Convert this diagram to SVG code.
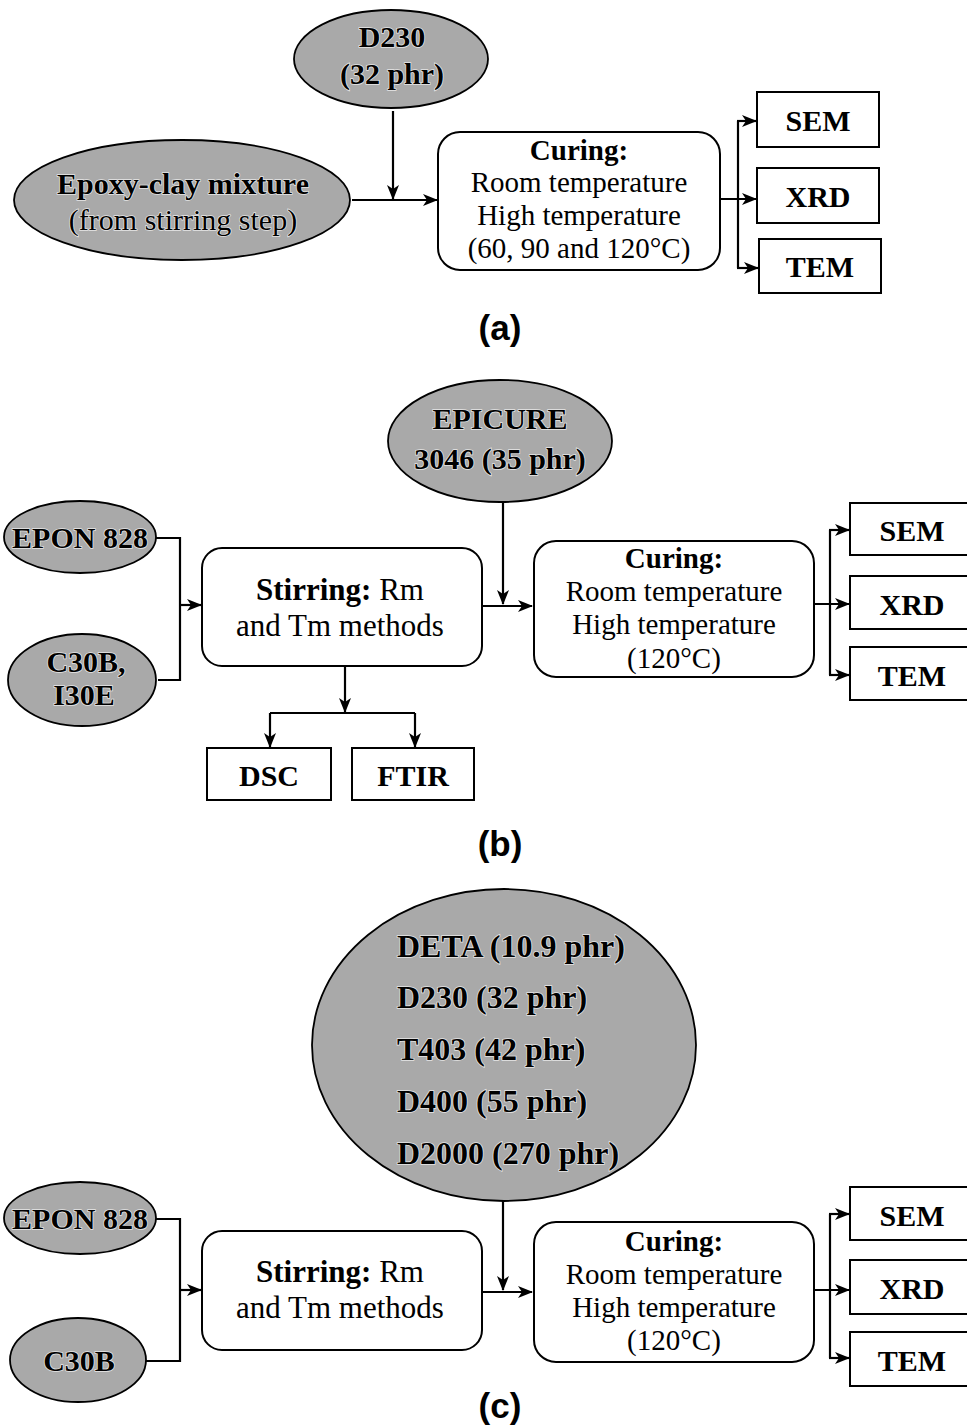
<svg xmlns="http://www.w3.org/2000/svg" width="967" height="1428" viewBox="0 0 967 1428">
  <defs>
    <marker id="arr" viewBox="0 0 15 12" refX="14" refY="6" markerWidth="15" markerHeight="12" markerUnits="userSpaceOnUse" orient="auto">
      <path d="M0,0 L15,6 L0,12 L4,6 z" fill="#000"/>
    </marker>
  </defs>
  <style>
    .ell { fill: #a9a9a9; stroke: #000; stroke-width: 1.8; }
    .box { fill: #fff; stroke: #000; stroke-width: 2; }
    .con { fill: none; stroke: #000; stroke-width: 2.2; }
    .arw { fill: none; stroke: #000; stroke-width: 2.2; marker-end: url(#arr); }
    text { font-family: "Liberation Serif", "Times New Roman", serif; fill: #000; }
    .et { font-size: 30px; font-weight: bold; text-anchor: middle; stroke: #e6e6e6; stroke-width: 1.5; paint-order: stroke; }
    .el { font-size: 32px; font-weight: bold; stroke: #e6e6e6; stroke-width: 1.5; paint-order: stroke; }
    .er { font-size: 30px; text-anchor: middle; stroke: #e6e6e6; stroke-width: 1.5; paint-order: stroke; }
    .bt { font-size: 29px; text-anchor: middle; }
    .st { font-size: 31px; text-anchor: middle; }
    .lb { font-size: 30px; font-weight: bold; text-anchor: middle; }
    .cap { font-family: "Liberation Sans", Arial, sans-serif; font-size: 35px; font-weight: bold; text-anchor: middle; }
  </style>

  <rect width="967" height="1428" fill="#fff"/>

  <!-- ===== Panel (a) ===== -->
  <g id="a-d230">
    <ellipse class="ell" cx="391" cy="59" rx="97" ry="49"/>
    <text class="et" x="392" y="47">D230</text>
    <text class="et" x="392" y="84">(32 phr)</text>
  </g>
  <g id="a-mixture">
    <ellipse class="ell" cx="182" cy="200" rx="168" ry="60"/>
    <text class="et" x="183" y="194">Epoxy-clay mixture</text>
    <text class="er" x="183" y="230">(from stirring step)</text>
  </g>
  <g id="a-curing">
    <rect class="box" x="438" y="132" width="282" height="138" rx="22"/>
    <text class="bt" x="579" y="160" font-weight="bold">Curing:</text>
    <text class="bt" x="579" y="192">Room temperature</text>
    <text class="bt" x="579" y="225">High temperature</text>
    <text class="bt" x="579" y="258">(60, 90 and 120°C)</text>
  </g>
  <g id="a-sem">
    <rect class="box" x="757" y="92" width="122" height="55"/>
    <text class="lb" x="818" y="131">SEM</text>
  </g>
  <g id="a-xrd">
    <rect class="box" x="757" y="168" width="122" height="55"/>
    <text class="lb" x="818" y="207">XRD</text>
  </g>
  <g id="a-tem">
    <rect class="box" x="759" y="239" width="122" height="54"/>
    <text class="lb" x="820" y="277">TEM</text>
  </g>
  <g id="a-connectors">
    <path class="arw" d="M393,111 V199"/>
    <path class="arw" d="M352,200 H437"/>
    <path class="con" d="M738,121 V268"/>
    <path class="arw" d="M720,199 H756"/>
    <path class="arw" d="M737,121 H756"/>
    <path class="arw" d="M737,268 H758"/>
  </g>
  <text id="cap-a" class="cap" x="500" y="340">(a)</text>

  <!-- ===== Panel (b) ===== -->
  <g id="b-epicure">
    <ellipse class="ell" cx="500" cy="441" rx="112" ry="61"/>
    <text class="et" x="500" y="429">EPICURE</text>
    <text class="et" x="500" y="469">3046 (35 phr)</text>
  </g>
  <g id="b-epon">
    <ellipse class="ell" cx="80" cy="537" rx="76" ry="36"/>
    <text class="et" x="80" y="548">EPON 828</text>
  </g>
  <g id="b-clay">
    <ellipse class="ell" cx="82" cy="680" rx="74" ry="46"/>
    <text class="et" x="86" y="672">C30B,</text>
    <text class="et" x="84" y="705">I30E</text>
  </g>
  <g id="b-stirring">
    <rect class="box" x="202" y="548" width="280" height="118" rx="20"/>
    <text class="st" x="340" y="600"><tspan font-weight="bold">Stirring:</tspan> Rm</text>
    <text class="st" x="340" y="636">and Tm methods</text>
  </g>
  <g id="b-dsc">
    <rect class="box" x="207" y="748" width="124" height="52"/>
    <text class="lb" x="269" y="786">DSC</text>
  </g>
  <g id="b-ftir">
    <rect class="box" x="352" y="748" width="122" height="52"/>
    <text class="lb" x="413" y="786">FTIR</text>
  </g>
  <g id="b-curing">
    <rect class="box" x="534" y="541" width="280" height="136" rx="22"/>
    <text class="bt" x="674" y="568" font-weight="bold">Curing:</text>
    <text class="bt" x="674" y="601">Room temperature</text>
    <text class="bt" x="674" y="634">High temperature</text>
    <text class="bt" x="674" y="668">(120°C)</text>
  </g>
  <g id="b-sem">
    <rect class="box" x="850" y="503" width="130" height="52"/>
    <text class="lb" x="912" y="541">SEM</text>
  </g>
  <g id="b-xrd">
    <rect class="box" x="850" y="576" width="130" height="53"/>
    <text class="lb" x="912" y="615">XRD</text>
  </g>
  <g id="b-tem">
    <rect class="box" x="850" y="647" width="130" height="53"/>
    <text class="lb" x="912" y="686">TEM</text>
  </g>
  <g id="b-connectors">
    <path class="con" d="M156,538 H180 V680 H158"/>
    <path class="arw" d="M180,605 H201"/>
    <path class="arw" d="M345,666 V712"/>
    <path class="con" d="M270,713 H415"/>
    <path class="arw" d="M270,713 V747"/>
    <path class="arw" d="M415,713 V747"/>
    <path class="arw" d="M503,502 V604"/>
    <path class="arw" d="M482,606 H532"/>
    <path class="con" d="M830,530 V675"/>
    <path class="arw" d="M814,604 H849"/>
    <path class="arw" d="M829,530 H849"/>
    <path class="arw" d="M829,675 H849"/>
  </g>
  <text id="cap-b" class="cap" x="500" y="856">(b)</text>

  <!-- ===== Panel (c) ===== -->
  <g id="c-hardeners">
    <ellipse class="ell" cx="504" cy="1045" rx="192" ry="156"/>
    <text class="el" x="397" y="957">DETA (10.9 phr)</text>
    <text class="el" x="397" y="1008">D230 (32 phr)</text>
    <text class="el" x="397" y="1060">T403 (42 phr)</text>
    <text class="el" x="397" y="1112">D400 (55 phr)</text>
    <text class="el" x="397" y="1164">D2000 (270 phr)</text>
  </g>
  <g id="c-epon">
    <ellipse class="ell" cx="80" cy="1218" rx="76" ry="36"/>
    <text class="et" x="80" y="1229">EPON 828</text>
  </g>
  <g id="c-clay">
    <ellipse class="ell" cx="78" cy="1360" rx="68" ry="42"/>
    <text class="et" x="79" y="1371">C30B</text>
  </g>
  <g id="c-stirring">
    <rect class="box" x="202" y="1231" width="280" height="119" rx="20"/>
    <text class="st" x="340" y="1282"><tspan font-weight="bold">Stirring:</tspan> Rm</text>
    <text class="st" x="340" y="1318">and Tm methods</text>
  </g>
  <g id="c-curing">
    <rect class="box" x="534" y="1222" width="280" height="140" rx="22"/>
    <text class="bt" x="674" y="1251" font-weight="bold">Curing:</text>
    <text class="bt" x="674" y="1284">Room temperature</text>
    <text class="bt" x="674" y="1317">High temperature</text>
    <text class="bt" x="674" y="1350">(120°C)</text>
  </g>
  <g id="c-sem">
    <rect class="box" x="850" y="1187" width="130" height="53"/>
    <text class="lb" x="912" y="1226">SEM</text>
  </g>
  <g id="c-xrd">
    <rect class="box" x="850" y="1260" width="130" height="54"/>
    <text class="lb" x="912" y="1299">XRD</text>
  </g>
  <g id="c-tem">
    <rect class="box" x="850" y="1332" width="130" height="54"/>
    <text class="lb" x="912" y="1371">TEM</text>
  </g>
  <g id="c-connectors">
    <path class="con" d="M156,1219 H180 V1361 H146"/>
    <path class="arw" d="M180,1290 H201"/>
    <path class="arw" d="M503,1201 V1290"/>
    <path class="arw" d="M482,1292 H532"/>
    <path class="con" d="M830,1214 V1358"/>
    <path class="arw" d="M814,1290 H849"/>
    <path class="arw" d="M829,1214 H849"/>
    <path class="arw" d="M829,1358 H849"/>
  </g>
  <text id="cap-c" class="cap" x="500" y="1418">(c)</text>
</svg>
